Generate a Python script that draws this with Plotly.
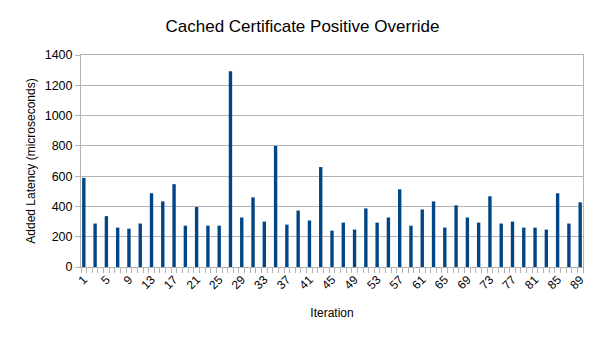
import plotly.graph_objects as go

iterations = [1, 3, 5, 7, 9, 11, 13, 15, 17, 19, 21, 23, 25, 27, 29, 31, 33, 35, 37, 39, 41, 43, 45,
              47, 49, 51, 53, 55, 57, 59, 61, 63, 65, 67, 69, 71, 73, 75, 77, 79, 81, 83, 85, 87, 89]
latency = [589, 287, 336, 260, 253, 287, 487, 433, 547, 273, 396, 273, 273, 1293, 327, 460, 300, 800,
           280, 373, 307, 660, 240, 293, 247, 387, 293, 327, 513, 273, 380, 433, 260, 407, 327, 293,
           467, 287, 300, 260, 260, 247, 487, 287, 427]
tick_labels = [1, 5, 9, 13, 17, 21, 25, 29, 33, 37, 41, 45, 49, 53, 57, 61, 65, 69, 73, 77, 81, 85, 89]
y_ticks = [0, 200, 400, 600, 800, 1000, 1200, 1400]

grid = "#b3b3b3"
font = "Liberation Sans, Arial, sans-serif"

fig = go.Figure(go.Bar(x=iterations, y=latency, width=0.6, marker=dict(color="#004586", line=dict(width=0))))

fig.update_layout(
    width=605, height=340,
    margin=dict(l=81, r=22, t=55, b=73),
    paper_bgcolor="white", plot_bgcolor="white",
    font=dict(family=font, size=12, color="black"),
    title=dict(text="Cached Certificate Positive Override", x=0.5, xanchor="center",
               y=1 - 26/340, yanchor="middle", font=dict(size=17, family=font, color="black")),
    showlegend=False,
)
fig.update_xaxes(
    range=[0.5, 89.5], tickmode="array", tickvals=tick_labels, ticktext=[str(t) for t in tick_labels],
    tickangle=-45, ticks="", showgrid=False, showline=True, linecolor=grid, linewidth=1, mirror=True,
    tickfont=dict(size=12),
    minor=dict(tickmode="linear", tick0=0.5, dtick=1, ticks="outside", ticklen=5, tickcolor=grid, showgrid=False),
    title=dict(text="Iteration", font=dict(size=12), standoff=17),
)
fig.update_yaxes(
    range=[0, 1400], tickvals=y_ticks, showgrid=True, gridcolor=grid, gridwidth=1,
    showline=True, linecolor=grid, linewidth=1, mirror=True, zeroline=False,
    ticks="outside", ticklen=5, tickcolor=grid, tickfont=dict(size=12.5),
    title=dict(text="Added Latency (microseconds)", font=dict(size=12), standoff=6),
)

fig.write_html("out.html")
